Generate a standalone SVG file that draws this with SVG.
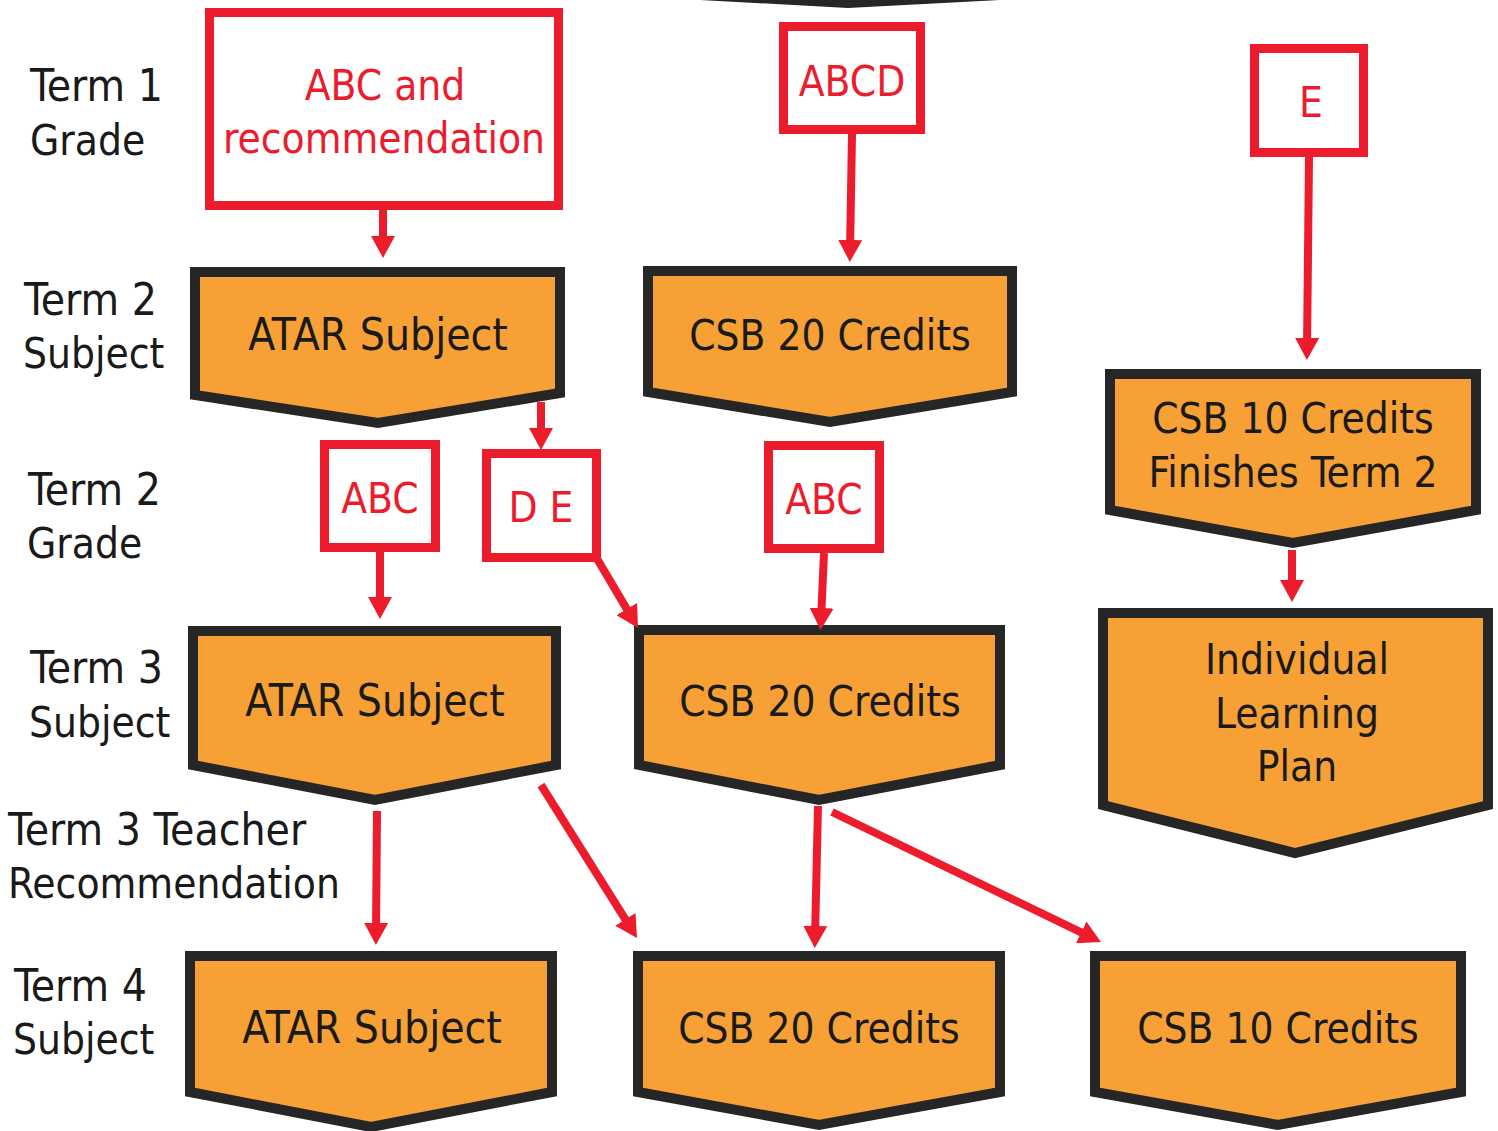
<svg xmlns="http://www.w3.org/2000/svg" width="1498" height="1131" viewBox="0 0 1498 1131">
<style>
text{font-family:"DejaVu Sans Condensed","DejaVu Sans",sans-serif;font-size:42px}
.lbl{fill:#1a1a1a}
.t{font-size:44px}
.nt{fill:#1a1a1a;text-anchor:middle}
.rt{fill:#ec1c2c;text-anchor:middle}
.chev{fill:#f6a035;stroke:#262626;stroke-width:10;stroke-linejoin:miter}
.rbox{fill:#fff;stroke:#ec1c2c;stroke-width:9}
.arr{stroke:#ec1c2c;stroke-width:8;fill:none;marker-end:url(#ah)}
</style>
<defs>
<marker id="ah" viewBox="0 0 22 24" refX="12" refY="12" markerWidth="22" markerHeight="24" markerUnits="userSpaceOnUse" orient="auto">
<path d="M0,0 L22,12 L0,24 z" fill="#ec1c2c"/>
</marker>
</defs>
<rect width="1498" height="1131" fill="#fff"/>

<g id="partial-top">
<polygon points="700,0 848,8 1000,0" fill="#262626"/>
</g>

<g id="labels">
<text class="lbl t" x="30" y="101">Term 1</text>
<text class="lbl" x="30" y="155">Grade</text>
<text class="lbl t" x="24" y="315">Term 2</text>
<text class="lbl" x="23" y="368">Subject</text>
<text class="lbl t" x="28" y="505">Term 2</text>
<text class="lbl" x="27" y="558">Grade</text>
<text class="lbl t" x="30" y="683">Term 3</text>
<text class="lbl" x="29" y="737">Subject</text>
<text class="lbl t" x="8" y="845">Term 3 Teacher</text>
<text class="lbl" x="8" y="898">Recommendation</text>
<text class="lbl t" x="14" y="1001">Term 4</text>
<text class="lbl" x="13" y="1054">Subject</text>
</g>

<g id="grade-t1-abc">
<rect class="rbox" x="209.5" y="12.5" width="349" height="193"/>
<text class="rt" x="385" y="100">ABC and</text>
<text class="rt" x="384" y="153" font-size="41">recommendation</text>
</g>
<g id="grade-t1-abcd">
<rect class="rbox" x="783.5" y="26.5" width="137" height="103"/>
<text class="rt" x="852" y="96">ABCD</text>
</g>
<g id="grade-t1-e">
<rect class="rbox" x="1254.5" y="48.5" width="109" height="104"/>
<text class="rt" x="1311" y="117">E</text>
</g>

<g id="t2-atar">
<polygon class="chev" points="195,272 560,272 560,393 378,423 195,395"/>
<text class="nt t" x="378" y="350">ATAR Subject</text>
</g>
<g id="t2-csb20">
<polygon class="chev" points="648,271 1012,271 1012,392 830,422 648,392"/>
<text class="nt" x="830" y="350">CSB 20 Credits</text>
</g>
<g id="t2-csb10">
<polygon class="chev" points="1110,374 1476,374 1476,510 1293,543 1110,510"/>
<text class="nt" x="1293" y="433">CSB 10 Credits</text>
<text class="nt" x="1293" y="487">Finishes Term 2</text>
</g>

<g id="grade-t2-abc-left">
<rect class="rbox" x="324.5" y="444.5" width="111" height="103"/>
<text class="rt" x="380" y="513">ABC</text>
</g>
<g id="grade-t2-de">
<rect class="rbox" x="486.5" y="453.5" width="110" height="104"/>
<text class="rt" x="541" y="522">D E</text>
</g>
<g id="grade-t2-abc-mid">
<rect class="rbox" x="768.5" y="445.5" width="111" height="103"/>
<text class="rt" x="824" y="514">ABC</text>
</g>

<g id="ilp">
<polygon class="chev" points="1103,613 1488,613 1488,805 1295,853 1103,805"/>
<text class="nt" x="1297" y="674">Individual</text>
<text class="nt" x="1297" y="728">Learning</text>
<text class="nt" x="1297" y="781">Plan</text>
</g>

<g id="t3-atar">
<polygon class="chev" points="193,631 556,631 556,765 375,800 193,765"/>
<text class="nt t" x="375" y="716">ATAR Subject</text>
</g>
<g id="t3-csb20">
<polygon class="chev" points="639,630 1000,630 1000,765 819,800 639,765"/>
<text class="nt" x="820" y="716">CSB 20 Credits</text>
</g>

<g id="t4-atar">
<polygon class="chev" points="190,956 552,956 552,1092 371,1127 190,1092"/>
<text class="nt t" x="372" y="1043">ATAR Subject</text>
</g>
<g id="t4-csb20">
<polygon class="chev" points="638,956 1000,956 1000,1092 819,1125 638,1092"/>
<text class="nt" x="819" y="1043">CSB 20 Credits</text>
</g>
<g id="t4-csb10">
<polygon class="chev" points="1095,956 1461,956 1461,1092 1278,1125 1095,1092"/>
<text class="nt" x="1278" y="1043">CSB 10 Credits</text>
</g>

<g id="connectors">
<line class="arr" x1="383" y1="210" x2="383" y2="248"/>
<line class="arr" x1="852" y1="134" x2="850" y2="252"/>
<line class="arr" x1="1309" y1="157" x2="1307" y2="350"/>
<line class="arr" x1="541" y1="402" x2="541" y2="440"/>
<line class="arr" x1="380" y1="552" x2="380" y2="609"/>
<line class="arr" x1="596" y1="557" x2="632.9" y2="619.4"/>
<line class="arr" x1="824" y1="553" x2="821" y2="620"/>
<line class="arr" x1="1292" y1="550" x2="1292" y2="592"/>
<line class="arr" x1="377" y1="811" x2="376" y2="935"/>
<line class="arr" x1="541" y1="785" x2="631.7" y2="929.5"/>
<line class="arr" x1="818" y1="806" x2="815" y2="938"/>
<line class="arr" x1="832" y1="812" x2="1092" y2="937.6"/>
</g>
</svg>
